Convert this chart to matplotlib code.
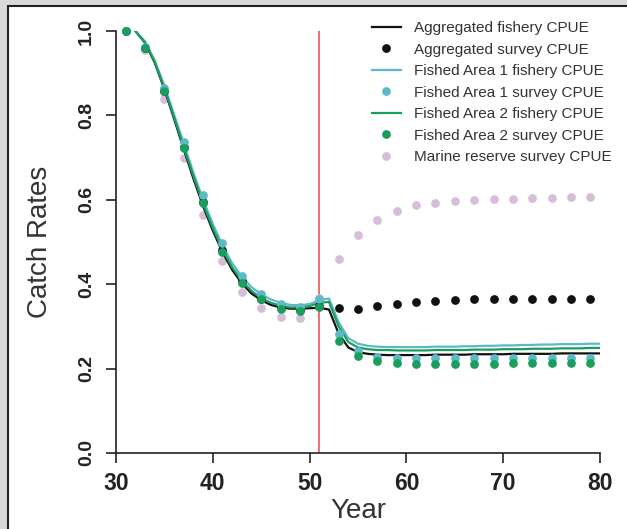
import numpy as np
import matplotlib
matplotlib.use("Agg")
import matplotlib.pyplot as plt
from matplotlib.patches import Rectangle

plt.rcParams['font.family'] = ['Liberation Sans', 'DejaVu Sans']

# annual fishery CPUE (lines), years 32..80
line_years = list(range(32, 81))
agg_fishery = [1.000, 0.972, 0.925, 0.862, 0.792, 0.720, 0.650, 0.585, 0.527, 0.476,
               0.434, 0.402, 0.378, 0.362, 0.351, 0.345, 0.342, 0.342, 0.343, 0.344,
               0.340, 0.283, 0.250, 0.239, 0.235, 0.233, 0.232, 0.232, 0.232, 0.232,
               0.232, 0.233, 0.233, 0.233, 0.233, 0.234, 0.234, 0.234, 0.234, 0.235,
               0.235, 0.235, 0.235, 0.235, 0.236, 0.236, 0.236, 0.236, 0.236]
area1_fishery = [1.000, 0.975, 0.930, 0.870, 0.802, 0.733, 0.664, 0.600, 0.543, 0.492,
                 0.450, 0.418, 0.393, 0.376, 0.364, 0.356, 0.351, 0.350, 0.353, 0.362,
                 0.366, 0.310, 0.272, 0.259, 0.254, 0.252, 0.251, 0.251, 0.251, 0.251,
                 0.251, 0.252, 0.252, 0.252, 0.253, 0.253, 0.254, 0.254, 0.255, 0.255,
                 0.256, 0.256, 0.257, 0.257, 0.258, 0.258, 0.258, 0.259, 0.259]
area2_fishery = [1.000, 0.973, 0.927, 0.865, 0.796, 0.725, 0.656, 0.591, 0.533, 0.482,
                 0.440, 0.408, 0.384, 0.367, 0.356, 0.349, 0.345, 0.345, 0.348, 0.356,
                 0.358, 0.300, 0.263, 0.250, 0.246, 0.244, 0.244, 0.243, 0.243, 0.243,
                 0.243, 0.244, 0.244, 0.244, 0.244, 0.245, 0.245, 0.245, 0.246, 0.246,
                 0.246, 0.247, 0.247, 0.247, 0.248, 0.248, 0.248, 0.249, 0.249]

# survey CPUE (points), years 31..79 every 2 years
survey_years = list(range(31, 80, 2))
agg_survey = [1.0, 0.96, 0.858, 0.725, 0.595, 0.48, 0.407, 0.366, 0.345, 0.34,
              0.348, 0.344, 0.342, 0.348, 0.353, 0.357, 0.360, 0.362, 0.364, 0.365,
              0.365, 0.366, 0.366, 0.366, 0.366]
area1_survey = [1.0, 0.962, 0.864, 0.738, 0.612, 0.498, 0.42, 0.377, 0.354, 0.346,
                0.366, 0.282, 0.241, 0.228, 0.226, 0.225, 0.225, 0.225, 0.225, 0.225,
                0.226, 0.226, 0.226, 0.226, 0.226]
area2_survey = [1.0, 0.96, 0.858, 0.722, 0.592, 0.476, 0.404, 0.364, 0.342, 0.337,
                0.345, 0.266, 0.230, 0.217, 0.213, 0.212, 0.212, 0.212, 0.212, 0.212,
                0.213, 0.213, 0.213, 0.213, 0.213]
reserve_survey = [1.0, 0.955, 0.839, 0.70, 0.565, 0.454, 0.382, 0.344, 0.322, 0.321,
                  0.368, 0.46, 0.517, 0.552, 0.574, 0.587, 0.593, 0.596, 0.600, 0.601,
                  0.603, 0.604, 0.605, 0.606, 0.606]
reserve_year = 51

black = '#111111'
cyan = '#5cb9c6'
green = '#1a9e5e'
pink = '#d6bdd8'

fig = plt.figure(figsize=(6.27, 5.29), dpi=100)
fig.patch.set_facecolor('#d9d9d9')
# white panel with a dark edge on the left and top
bg = fig.add_axes([0, 0, 1, 1], zorder=-10)
bg.axis('off')
bg.add_patch(Rectangle((8 / 627, -0.01), 1.0, 1.01 - 6 / 529, transform=bg.transAxes,
                       facecolor='white', edgecolor='#222222', linewidth=1.5))

ax = fig.add_axes([116 / 627, (529 - 453) / 529, 484 / 627, 422 / 529])
ax.set_facecolor('none')

ax.plot(line_years, agg_fishery, color=black, lw=1.6, zorder=3, label='Aggregated fishery CPUE')
ax.plot(survey_years, agg_survey, 'o', color=black, ms=6.3, mec='none', zorder=4, clip_on=False,
        label='Aggregated survey CPUE')
ax.plot(line_years, area1_fishery, color=cyan, lw=1.6, zorder=3, label='Fished Area 1 fishery CPUE')
ax.plot(survey_years, area1_survey, 'o', color=cyan, ms=6.3, mec='none', zorder=5, clip_on=False,
        label='Fished Area 1 survey CPUE')
ax.plot(line_years, area2_fishery, color=green, lw=1.6, zorder=3, label='Fished Area 2 fishery CPUE')
ax.plot(survey_years, area2_survey, 'o', color=green, ms=6.3, mec='none', zorder=6, clip_on=False,
        label='Fished Area 2 survey CPUE')
ax.plot(survey_years, reserve_survey, 'o', color=pink, ms=6.3, mec='none', zorder=2, clip_on=False,
        label='Marine reserve survey CPUE')

ax.plot([reserve_year, reserve_year], [0, 1], color='#e8484a', lw=1.1, zorder=1)

ax.set_xlim(30, 80)
ax.set_ylim(0, 1)
ax.set_xticks([30, 40, 50, 60, 70, 80])
ax.set_yticks([0.0, 0.2, 0.4, 0.6, 0.8, 1.0])
ax.set_yticklabels(['0.0', '0.2', '0.4', '0.6', '0.8', '1.0'], rotation=90, va='center')
for s in ['top', 'right']:
    ax.spines[s].set_visible(False)
for s in ['left', 'bottom']:
    ax.spines[s].set_color('#222222')
    ax.spines[s].set_linewidth(1.2)
ax.tick_params(direction='out', length=7, width=1.2, color='#222222')
ax.tick_params(axis='x', pad=7, labelsize=16.5)
ax.tick_params(axis='y', pad=8, labelsize=14)
for lab in ax.get_xticklabels() + ax.get_yticklabels():
    lab.set_fontweight('bold')
    lab.set_color('#222222')

ax.set_xlabel('Year', fontsize=20, color='#333333', labelpad=2)
ax.set_ylabel('Catch Rates', fontsize=20, color='#333333', labelpad=18)

ax.legend(loc='upper right', bbox_to_anchor=(1.053, 1.056), frameon=False, fontsize=11,
          numpoints=1, handlelength=1.85, handletextpad=0.9, labelspacing=0.49,
          labelcolor='#333333')

fig.savefig('out.png', dpi=100, facecolor=fig.get_facecolor())
